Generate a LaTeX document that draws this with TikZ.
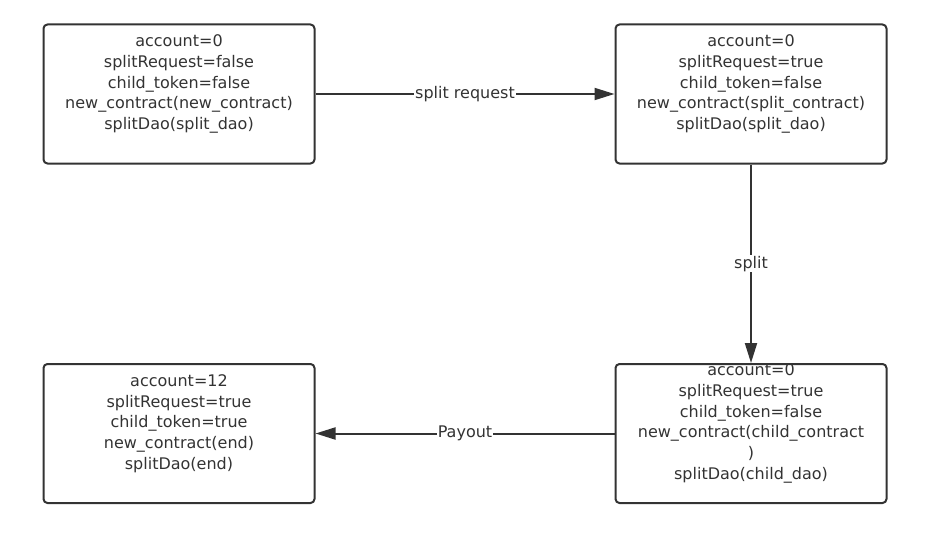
\documentclass[tikz,border=0pt]{standalone}
\usepackage{fontspec}
\setmainfont{DejaVu Sans}
\usetikzlibrary{arrows.meta}
\definecolor{linegray}{HTML}{333333}

\begin{document}
\begin{tikzpicture}[x=1pt, y=-1pt, >={Triangle[length=20pt,width=12pt]}, line width=2pt,
	state/.style={draw=linegray, rounded corners=4pt, minimum width=271pt, minimum height=139pt, inner sep=0pt},
	info/.style={align=center, text=linegray, font=\fontsize{16}{20.7}\selectfont},
	lbl/.style={fill=white, inner sep=1pt, text=linegray, font=\fontsize{16}{18}\selectfont}]
	\useasboundingbox (0,0) rectangle (927,535);
	% the four states
	\node[state] (init) at (179,94) {};
	\node[state] (req) at (751,94) {};
	\node[state] (done) at (179,433.5) {};
	\node[state] (child) at (751,433.5) {};
	\node[info] (initTxt) at ([yshift=10pt]init.center)
		{account=0\\ splitRequest=false\\ child\_token=false\\ new\_contract(new\_contract)\\ splitDao(split\_dao)};
	\node[info] (reqTxt) at ([yshift=10pt]req.center)
		{account=0\\ splitRequest=true\\ child\_token=false\\ new\_contract(split\_contract)\\ splitDao(split\_dao)};
	\node[info] (doneTxt) at ([yshift=10pt]done.center)
		{account=12\\ splitRequest=true\\ child\_token=true\\ new\_contract(end)\\ splitDao(end)};
	\node[info] (childTxt) at ([yshift=10pt]child.center)
		{account=0\\ splitRequest=true\\ child\_token=false\\ new\_contract(child\_contract\\ )\\ splitDao(child\_dao)};
	% transitions
	\draw[->, linegray] (init) -- node[lbl] {split request} (req);
	\draw[->, linegray] (req) -- node[lbl] {split} (child);
	\draw[->, linegray] (child) -- node[lbl] {Payout} (done);
\end{tikzpicture}
\end{document}
